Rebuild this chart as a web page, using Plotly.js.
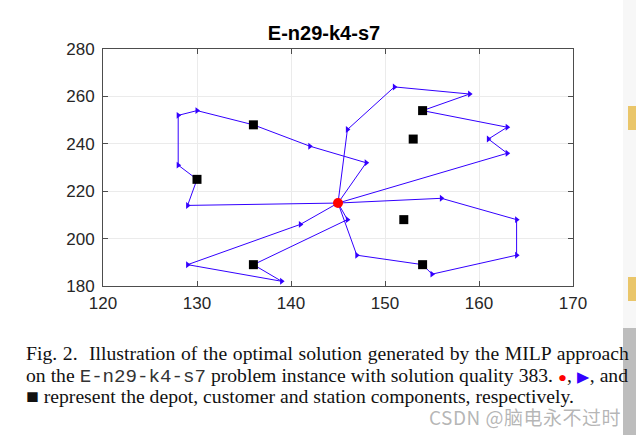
<!DOCTYPE html>
<html>
<head>
<meta charset="utf-8">
<script src="https://cdn.plot.ly/plotly-3.0.1.min.js"></script>
<style>
  html, body { margin: 0; padding: 0; background: #ffffff; }
  #wrap { position: relative; width: 636px; height: 435px; overflow: hidden; }
  #chart { position: absolute; left: 0; top: 0; width: 636px; height: 435px; }
  #caption {
    position: absolute; left: 26px; top: 344px;
    font-family: "Liberation Serif", "Times New Roman", serif;
    font-size: 18.5px; line-height: 21.7px; color: #111;
    transform-origin: 0 0;
  }
  #caption .ln { white-space: nowrap; display: block; height: 21.7px; }
  #caption .ln span.in { display: inline-block; white-space: nowrap; }
  #caption .mono { font-family: "Liberation Mono", "Courier New", monospace; color: #333; font-size: 18px; }
  #wm {
    position: absolute; left: 429px; top: 410px;
    font-family: "Noto Sans CJK SC", "Noto Sans", sans-serif;
    font-size: 19px; line-height: 13px; color: rgba(150,150,150,0.7);
    white-space: nowrap; letter-spacing: 0.5px;
  }
  .side { position: absolute; }
</style>
</head>
<body>
<div id="wrap">
  <div id="chart"></div>
  <div class="side" style="left:623px;top:0;width:13px;height:328px;background:#f7f7f7;"></div>
  <div class="side" style="left:628px;top:106px;width:8px;height:24px;background:#eac66a;"></div>
  <div class="side" style="left:628px;top:277px;width:8px;height:24px;background:#eac66a;"></div>
  <div class="side" style="left:623px;top:328px;width:13px;height:107px;background:#bdbdbd;"></div>
  <div id="caption">
    <div class="ln"><span class="in" id="c1">Fig. 2.&nbsp; Illustration of the optimal solution generated by the MILP approach</span></div>
    <div class="ln"><span class="in" id="c2">on the <span class="mono">E-n29-k4-s7</span> problem instance with solution quality 383. <span style="color:#ff0000;font-size:14px;line-height:0;">●</span>, <span style="color:#3300ff;font-size:15px;line-height:0;">▶</span>, and</span></div>
    <div class="ln"><span class="in" id="c3"><span style="font-size:20px;line-height:0;">■</span> represent the depot, customer and station components, respectively.</span></div>
  </div>
  <div id="wm">CSDN @脑电永不过时</div>
</div>
<script>
// ---- data ----
const chartTitle = "E-n29-k4-s7";
const depotX = [145];
const depotY = [215];
const stationX = [136, 130, 136, 154, 153, 152, 154];
const stationY = [248, 225, 189, 254, 242, 208, 189];
const route1X = [145, 129, 130, 128, 128, 130, 136, 142, 148, 145];
const route1Y = [215, 214, 225, 231, 252, 254, 248, 239, 232, 215];
const route2X = [145, 146, 151, 159, 154, 163, 161, 163, 145];
const route2Y = [215, 246, 264, 261, 254, 247, 242, 236, 215];
const route3X = [145, 156, 164, 164, 155, 154, 147, 145];
const route3Y = [215, 217, 208, 193, 185, 189, 193, 215];
const route4X = [145, 146, 136, 139, 129, 141, 145];
const route4Y = [215, 208, 189, 182, 189, 206, 215];
const xTicks = [120, 130, 140, 150, 160, 170];
const yTicks = [180, 200, 220, 240, 260, 280];

const routeColor = "#3300ff";
const routes = [[route1X, route1Y], [route2X, route2Y], [route3X, route3Y], [route4X, route4Y]];

const traces = routes.map(r => ({
  x: r[0], y: r[1], type: "scatter", mode: "lines+markers",
  line: { color: routeColor, width: 1 },
  marker: { symbol: "triangle-right", size: 6, color: routeColor },
  hoverinfo: "skip", showlegend: false
}));
traces.push({
  x: stationX, y: stationY, type: "scatter", mode: "markers",
  marker: { symbol: "square", size: 9, color: "#000000" },
  showlegend: false
});
traces.push({
  x: depotX, y: depotY, type: "scatter", mode: "markers",
  marker: { symbol: "circle", size: 10, color: "#ff0000" },
  showlegend: false
});

const axisCommon = {
  showgrid: true, gridcolor: "#ebebeb", gridwidth: 1,
  showline: true, linecolor: "#4d4d4d", linewidth: 1, mirror: "ticks",
  ticks: "inside", ticklen: 5, tickcolor: "#4d4d4d", tickwidth: 1,
  zeroline: false, tickmode: "array",
  tickfont: { family: "Liberation Sans, Arial, sans-serif", size: 17, color: "#262626" }
};

const layout = {
  width: 636, height: 435,
  margin: { l: 103, r: 63, t: 49, b: 149 },
  paper_bgcolor: "rgba(0,0,0,0)", plot_bgcolor: "#ffffff",
  title: {
    text: "<b>" + chartTitle + "</b>",
    font: { family: "Liberation Sans, Arial, sans-serif", size: 20, color: "#000000" },
    x: 324 / 636, xref: "container", xanchor: "center",
    y: 1 - 33 / 435, yref: "container", yanchor: "middle"
  },
  xaxis: Object.assign({}, axisCommon, { range: [120, 170], tickvals: xTicks, ticktext: xTicks.map(String), ticklabelstandoff: 2 }),
  yaxis: Object.assign({}, axisCommon, { range: [180, 280], tickvals: yTicks, ticktext: yTicks.map(String), ticklabelstandoff: 4 }),
  showlegend: false
};

Plotly.newPlot("chart", traces, layout, { displayModeBar: false, staticPlot: true });

// caption fitting: last line spans 548px, justified lines span 602px
(function fitCaption() {
  const cap = document.getElementById("caption");
  const c1 = document.getElementById("c1"), c2 = document.getElementById("c2"), c3 = document.getElementById("c3");
  const w3 = c3.getBoundingClientRect().width;
  const s = 548 / w3;
  cap.style.transform = "scaleX(" + s + ")";
  [c1, c2].forEach(el => {
    const w = el.getBoundingClientRect().width / s;
    const spaces = (el.textContent.match(/ /g) || []).length;
    const extra = (602 / s - w) / Math.max(spaces, 1);
    el.style.wordSpacing = extra + "px";
  });
})();
</script>
</body>
</html>
